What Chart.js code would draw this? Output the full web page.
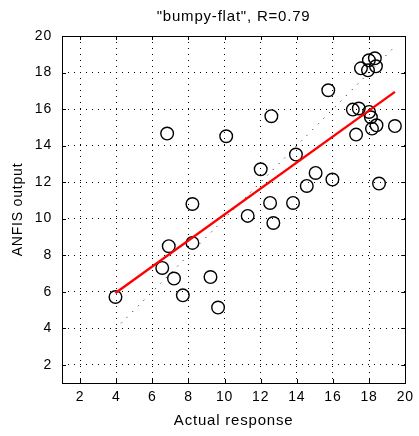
<!DOCTYPE html>
<html>
<head>
<meta charset="utf-8">
<script src="https://cdn.jsdelivr.net/npm/chart.js@4/dist/chart.umd.min.js"></script>
<style>
  html, body { margin: 0; padding: 0; background: #fff; }
  #wrap { width: 419px; height: 436px; }
</style>
</head>
<body>
<div id="wrap"><canvas id="regChart" width="419" height="436"></canvas></div>
<script>
// values
const actual = [3.96, 6.55, 6.91, 7.2, 7.69, 8.22, 8.22, 6.82, 9.22, 9.64,
  10.09, 11.28, 12.0, 12.52, 12.7, 12.59, 13.79, 13.95, 14.55, 15.04,
  15.97, 15.74, 17.1, 17.43, 18.0, 18.1, 17.28, 18.16, 18.41, 19.43,
  18.55, 17.55, 17.94, 17.99, 18.32, 18.38];
const anfis = [5.71, 7.30, 8.49, 6.72, 5.80, 8.67, 10.80, 14.66, 6.80, 5.13,
  14.51, 10.15, 12.70, 10.86, 9.76, 15.61, 10.86, 13.51, 11.79, 12.50,
  12.14, 17.03, 15.97, 16.03, 15.84, 15.55, 14.60, 14.93, 15.11, 15.07,
  11.92, 18.23, 18.12, 18.67, 18.78, 18.34];
const fitX = [3.96, 19.43];
const fitY = [5.93, 16.94];
const perfectX = [3.96, 19.43];
const perfectY = [3.96, 19.43];
const xTicks = [2, 4, 6, 8, 10, 12, 14, 16, 18, 20];
const yTicks = [2, 4, 6, 8, 10, 12, 14, 16, 18, 20];

const family = "'Liberation Sans', Arial, sans-serif";
const tickFont = { family, size: 14 };
const labelFont = { family, size: 15 };

// the source text is a bit wide, widen ours a little
const wideText = {
  id: "wideText",
  beforeDraw(chart) { chart.ctx.letterSpacing = "0.8px"; }
};

// box round the axes and inward tick marks, matlab style
const axesBox = {
  id: "axesBox",
  afterDraw(chart) {
    const { ctx, chartArea: a, scales } = chart;
    ctx.save();
    ctx.strokeStyle = "#000";
    ctx.lineWidth = 1;
    ctx.setLineDash([]);
    ctx.strokeRect(Math.round(a.left) + 0.5, Math.round(a.top) + 0.5,
      Math.round(a.right - a.left), Math.round(a.bottom - a.top));
    ctx.beginPath();
    xTicks.forEach(v => {
      const x = Math.round(scales.x.getPixelForValue(v)) + 0.5;
      ctx.moveTo(x, a.bottom); ctx.lineTo(x, a.bottom - 4);
      ctx.moveTo(x, a.top); ctx.lineTo(x, a.top + 4);
    });
    yTicks.forEach(v => {
      const y = Math.round(scales.y.getPixelForValue(v)) + 0.5;
      ctx.moveTo(a.left, y); ctx.lineTo(a.left + 4, y);
      ctx.moveTo(a.right, y); ctx.lineTo(a.right - 4, y);
    });
    ctx.stroke();
    ctx.restore();
  }
};

const gridOpts = { color: "#000", lineWidth: 1, drawTicks: false };
const borderOpts = { display: false, dash: [1, 5] };

new Chart(document.getElementById("regChart").getContext("2d"), {
  type: "scatter",
  data: {
    datasets: [
      {
        label: "data",
        data: actual.map((v, i) => ({ x: v, y: anfis[i] })),
        pointStyle: "circle",
        pointRadius: 6.3,
        borderColor: "#000",
        backgroundColor: "rgba(0,0,0,0)",
        borderWidth: 1.4,
        order: 1
      },
      {
        label: "fit",
        type: "line",
        data: fitX.map((v, i) => ({ x: v, y: fitY[i] })),
        borderColor: "#ff0000",
        borderWidth: 2.4,
        pointRadius: 0,
        fill: false,
        order: 0
      },
      {
        label: "A=T",
        type: "line",
        data: perfectX.map((v, i) => ({ x: v, y: perfectY[i] })),
        borderColor: "#000",
        borderWidth: 1,
        borderDash: [1, 7],
        pointRadius: 0,
        fill: false,
        order: 2
      }
    ]
  },
  options: {
    responsive: false,
    animation: false,
    layout: { padding: { left: 0, right: 9, top: 0, bottom: 0 } },
    plugins: {
      legend: { display: false },
      tooltip: { enabled: false },
      title: {
        display: true,
        fullSize: false,
        text: "\"bumpy-flat\", R=0.79",
        color: "#000",
        font: { ...labelFont, weight: "normal" },
        padding: { top: 8, bottom: 10 }
      }
    },
    scales: {
      x: {
        type: "linear",
        min: 1,
        max: 20,
        afterBuildTicks: s => { s.ticks = xTicks.map(v => ({ value: v })); },
        afterFit: s => { s.height = 53; },
        ticks: { color: "#000", font: tickFont, padding: 6, maxRotation: 0 },
        grid: gridOpts,
        border: borderOpts,
        title: { display: true, text: "Actual response", color: "#000", font: labelFont, padding: { top: 0, bottom: 6 } }
      },
      y: {
        type: "linear",
        min: 1,
        max: 20,
        afterBuildTicks: s => { s.ticks = yTicks.map(v => ({ value: v })); },
        afterFit: s => { s.width = 62; },
        ticks: { color: "#000", font: tickFont, padding: 10 },
        grid: gridOpts,
        border: borderOpts,
        title: { display: true, text: "ANFIS output", color: "#000", font: { family, size: 14 }, padding: { top: 10, bottom: 0 } }
      }
    }
  },
  plugins: [wideText, axesBox]
});
</script>
</body>
</html>
